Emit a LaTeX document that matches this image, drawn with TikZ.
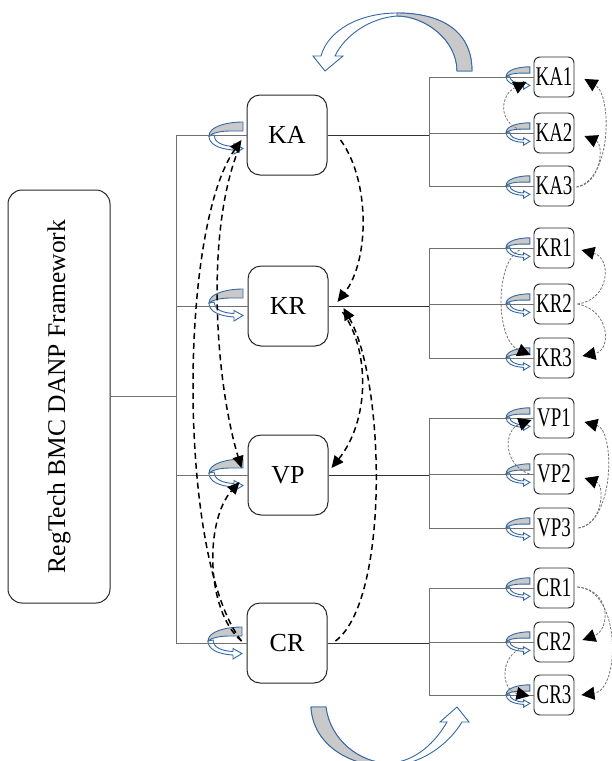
\documentclass[tikz,border=0pt]{standalone}
\usepackage{fontspec}
\setmainfont{Liberation Serif}
\usetikzlibrary{arrows.meta}

\definecolor{curlblue}{HTML}{3468A4}
\definecolor{curlgray}{HTML}{C9C9C9}
\definecolor{treegray}{HTML}{707070}

\tikzset{
  rootbox/.style={draw=black!85, line width=1pt, rounded corners=14pt,
    minimum width=102pt, minimum height=413pt, inner sep=0pt,
    font=\fontsize{25.5}{25.5}\selectfont},
  mainbox/.style={draw=black!85, line width=1pt, rounded corners=13pt,
    minimum width=80pt, minimum height=80pt, inner sep=0pt,
    font=\fontsize{26}{26}\selectfont},
  subbox/.style={draw=black!85, line width=0.9pt, rounded corners=6pt,
    minimum width=40pt, minimum height=40pt, inner sep=0pt,
    font=\fontsize{27}{27}\selectfont},
  treeline/.style={draw=treegray, line width=0.8pt},
  branchline/.style={draw=black!80, line width=1pt},
  bigdash/.style={draw=black, line width=1.5pt, dash pattern=on 6pt off 4pt,
    -{Triangle[length=12pt,width=11pt]}},
  smalldash/.style={draw=black!55, line width=0.8pt, dash pattern=on 2.5pt off 1.5pt,
    -{Triangle[length=13pt,width=13pt,color=black]}},
  ribbon/.style={draw=curlblue, line width=0.9pt, fill=white},
  ribbonback/.style={draw=curlblue, line width=0.9pt, fill=curlgray},
  pics/curl/.style={code={
    \path[ribbonback] (17,-16) .. controls (2,-16) and (-17,-12) .. (-17,-2)
      .. controls (-14,-5) and (-5,-7) .. (4,-7) -- (17,-7) -- cycle;
    \path[ribbon] (-17,-2) .. controls (-17,6) and (-8,11) .. (8,12)
      -- (8,16) -- (17,10.5) -- (8,5.5) -- (8,8.5)
      .. controls (-4,8) and (-12,4) .. (-12,-3) -- cycle;
  }},
}

\begin{document}
\begin{tikzpicture}[x=1pt,y=-1pt]
\useasboundingbox (0,0) rectangle (611,761);

% upper turning ribbon arrow
\path[ribbon] (472,71) .. controls (472,30) and (440,13) .. (397,13)
  .. controls (360,13) and (328,30) .. (321,56) -- (313,56) -- (325,71) -- (343,56) -- (335,56)
  .. controls (345,35) and (370,18) .. (397,16)
  .. controls (425,16) and (457,40) .. (457,71) -- cycle;
\path[ribbonback] (397,13) .. controls (440,13) and (472,30) .. (472,71) -- (457,71)
  .. controls (457,40) and (425,16) .. (397,16) -- cycle;

% lower turning ribbon arrow
\path[ribbon] (311,707) .. controls (313,745) and (350,766) .. (386,766)
  .. controls (420,766) and (448,745) .. (462,722)
  -- (469,722) -- (457,707) -- (440,722) -- (447,722)
  .. controls (432,748) and (410,763) .. (388,763)
  .. controls (360,763) and (330,740) .. (326,707) -- cycle;
\path[ribbonback] (311,707) .. controls (313,745) and (350,766) .. (386,766) -- (388,763)
  .. controls (360,763) and (330,740) .. (326,707) -- cycle;

% nodes
\node[rootbox] (root) at (59,396.5) {\rotatebox{90}{RegTech BMC DANP Framework}};

\node[mainbox] (KA) at (287,135) {KA};
\node[mainbox] (KR) at (288,306) {KR};
\node[mainbox] (VP) at (288,475) {VP};
\node[mainbox] (CR) at (287,643) {CR};

\foreach \n/\ya/\yb/\yc in {KA/77/133/186, KR/248/304/358, VP/418/474/528, CR/588/642/695}{
  \node[subbox] (\n1) at (554,\ya) {\scalebox{0.7}[1]{\n1}};
  \node[subbox] (\n2) at (554,\yb) {\scalebox{0.7}[1]{\n2}};
  \node[subbox] (\n3) at (554,\yc) {\scalebox{0.7}[1]{\n3}};
  \pic[scale=0.7] at (518,\ya+1) {curl};
  \pic[scale=0.7] at (518,\yb+1) {curl};
  \pic[scale=0.7] at (518,\yc+1) {curl};
}

% self-influence curls of the main dimensions
\pic at (226,138) {curl};
\pic at (226,305) {curl};
\pic at (226,475) {curl};
\pic at (225,643) {curl};

% tree connectors
\coordinate (trunk) at (176,0);
\coordinate (subtrunk) at (429,0);
\draw[treeline] (root.east) -- (root.east -| trunk);
\draw[treeline] (KA.west -| trunk) -- (CR.west -| trunk);
\foreach \n in {KA,KR,VP,CR}{
  \draw[treeline] (\n.west -| trunk) -- (\n.west);
  \draw[branchline] (\n.east) -- (\n.east -| subtrunk);
  \draw[treeline] (\n1.west -| subtrunk) -- (\n3.west -| subtrunk);
  \foreach \i in {1,2,3}{
    \draw[treeline] (\n\i.west -| subtrunk) -- (\n\i.west);
  }
}

% influence relations between dimensions
\draw[bigdash] ([shift={(-5,-2)}]CR.west) .. controls (178,560) and (178,230) .. ([shift={(-5,5)}]KA.west);
\draw[bigdash] ([shift={(-7,12)}]KA.west) .. controls (205,230) and (215,380) .. ([shift={(-6,-7)}]VP.west);
\draw[bigdash] ([shift={(-5,-2)}]CR.west) .. controls (205,610) and (205,520) .. ([shift={(-8,7)}]VP.west);
\draw[bigdash] ([shift={(13,5)}]KA.east) .. controls (370,180) and (370,260) .. ([shift={(9,-4)}]KR.east);
\draw[bigdash] ([shift={(14,6)}]KR.east) .. controls (370,350) and (370,420) .. ([shift={(3,-7)}]VP.east);
\draw[bigdash] ([shift={(8,-2)}]CR.east) .. controls (390,600) and (385,380) .. ([shift={(15,2)}]KR.east);

% influence relations between criteria
\draw[smalldash] ([shift={(2,1)}]KA3.east) .. controls (612,180) and (612,95) .. ([shift={(10,2)}]KA1.east);
\draw[smalldash] ([shift={(2,1)}]KA3.east) .. controls (600,185) and (605,145) .. ([shift={(10,3)}]KA2.east);
\draw[smalldash] ([shift={(-13,-3)}]KA2.west) .. controls (498,122) and (500,95) .. ([shift={(-7,5)}]KA1.west);

\draw[smalldash] ([shift={(3,0)}]KR2.east) .. controls (610,300) and (612,258) .. ([shift={(7,2)}]KR1.east);
\draw[smalldash] ([shift={(3,0)}]KR2.east) .. controls (610,310) and (612,350) .. ([shift={(8,-2)}]KR3.east);
\draw[smalldash] ([shift={(-14,2)}]KR1.west) .. controls (495,262) and (495,340) .. ([shift={(-3,-3)}]KR3.west);

\draw[smalldash] ([shift={(4,0)}]VP3.east) .. controls (615,522) and (615,430) .. ([shift={(10,4)}]VP1.east);
\draw[smalldash] ([shift={(4,0)}]VP3.east) .. controls (603,525) and (605,485) .. ([shift={(10,4)}]VP2.east);
\draw[smalldash] ([shift={(-4,0)}]VP2.west) .. controls (503,465) and (503,430) .. ([shift={(-2,2)}]VP1.west);

\draw[smalldash] ([shift={(3,-1)}]CR1.east) .. controls (612,590) and (610,630) .. ([shift={(8,-2)}]CR2.east);
\draw[smalldash] ([shift={(3,-1)}]CR1.east) .. controls (622,590) and (620,690) .. ([shift={(7,0)}]CR3.east);
\draw[smalldash] ([shift={(-11,6)}]CR2.west) .. controls (500,655) and (500,690) .. ([shift={(-4,1)}]CR3.west);
\end{tikzpicture}
\end{document}
